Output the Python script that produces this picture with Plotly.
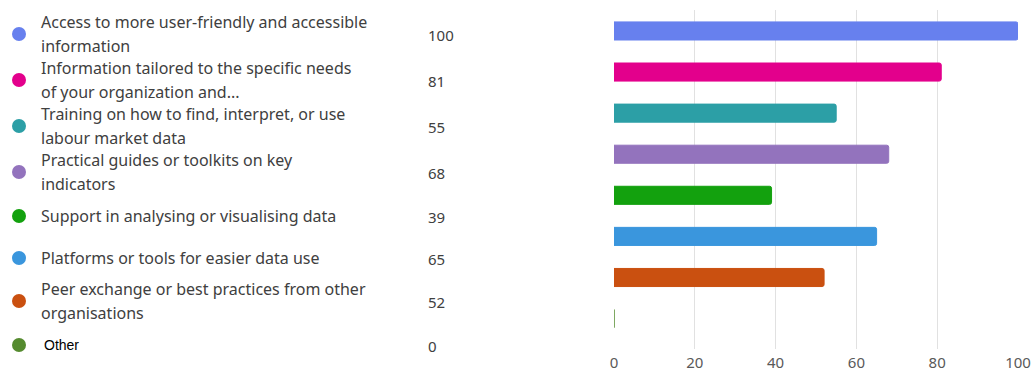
import plotly.graph_objects as go

categories = [
    "Access to more user-friendly and accessible<br>information",
    "Information tailored to the specific needs<br>of your organization and...",
    "Training on how to find, interpret, or use<br>labour market data",
    "Practical guides or toolkits on key<br>indicators",
    "Support in analysing or visualising data",
    "Platforms or tools for easier data use",
    "Peer exchange or best practices from other<br>organisations",
    "Other",
]
values = [100, 81, 55, 68, 39, 65, 52, 0]
colors = ["#6780EE", "#E3008C", "#2C9FA6", "#9373BD", "#13A10E", "#3A96DD", "#CA5010", "#558B2F"]
x_ticks = [0, 20, 40, 60, 80, 100]

# layout (pixel) positions of the left-hand legend rows
W, H = 1035, 372
ROW_Y = [34, 80, 126, 172, 216, 258, 301, 345]
LINE_GAP = 12
TEXT_FONT = "Noto Sans"
TEXT_COLOR = "#404040"

fig = go.Figure()

fig.add_trace(go.Bar(
    x=values, y=list(range(len(categories))), orientation="h",
    marker=dict(color=colors, line=dict(color=colors, width=1)),
    width=0.44, xaxis="x", yaxis="y", hoverinfo="x",
    showlegend=False,
))

# legend dots on overlay pixel axes
fig.add_trace(go.Scatter(
    x=[19] * len(categories), y=ROW_Y, mode="markers",
    marker=dict(color=colors, size=14), xaxis="x2", yaxis="y2",
    showlegend=False, hoverinfo="skip",
))

annotations = []
for i, (lab, val) in enumerate(zip(categories, values)):
    lines = lab.split("<br>")
    n = len(lines)
    for j, ln in enumerate(lines):
        yy = ROW_Y[i] + (j - (n - 1) / 2) * 2 * LINE_GAP
        if ln == "Other":
            annotations.append(dict(x=42, y=yy, xref="x2", yref="y2", text=ln, showarrow=False,
                                    xanchor="left", yanchor="middle",
                                    font=dict(family="Liberation Sans", size=14, color="#000000")))
        else:
            annotations.append(dict(x=39, y=yy, xref="x2", yref="y2", text=ln, showarrow=False,
                                    xanchor="left", yanchor="middle",
                                    font=dict(family=TEXT_FONT, size=16, color=TEXT_COLOR)))
    annotations.append(dict(x=426, y=ROW_Y[i] + 1, xref="x2", yref="y2", text=str(val), showarrow=False,
                            xanchor="left", yanchor="middle",
                            font=dict(family=TEXT_FONT, size=15, color=TEXT_COLOR)))

fig.update_layout(
    width=W, height=H, margin=dict(l=0, r=0, t=0, b=0, autoexpand=False),
    paper_bgcolor="white", plot_bgcolor="rgba(0,0,0,0)",
    barcornerradius=2,
    xaxis=dict(domain=[614 / W, 1018 / W], range=[0, 100], tickvals=x_ticks, anchor="y",
               showgrid=True, gridcolor="#E1E1E1", gridwidth=1, zeroline=False,
               showline=False, ticks="", ticklabelstandoff=3, automargin=False,
               tickfont=dict(family=TEXT_FONT, size=15, color="#595959"),
               fixedrange=True),
    yaxis=dict(domain=[(H - 349) / H, (H - 10) / H], range=[7.74, -0.51], anchor="x",
               showticklabels=False, showgrid=False, zeroline=False, automargin=False,
               fixedrange=True),
    xaxis2=dict(domain=[0, 1], range=[0, W], visible=False, anchor="y2", automargin=False,
                fixedrange=True),
    yaxis2=dict(domain=[0, 1], range=[H, 0], visible=False, anchor="x2", automargin=False,
                fixedrange=True),
    annotations=annotations,
)

fig.write_html("out.html")
